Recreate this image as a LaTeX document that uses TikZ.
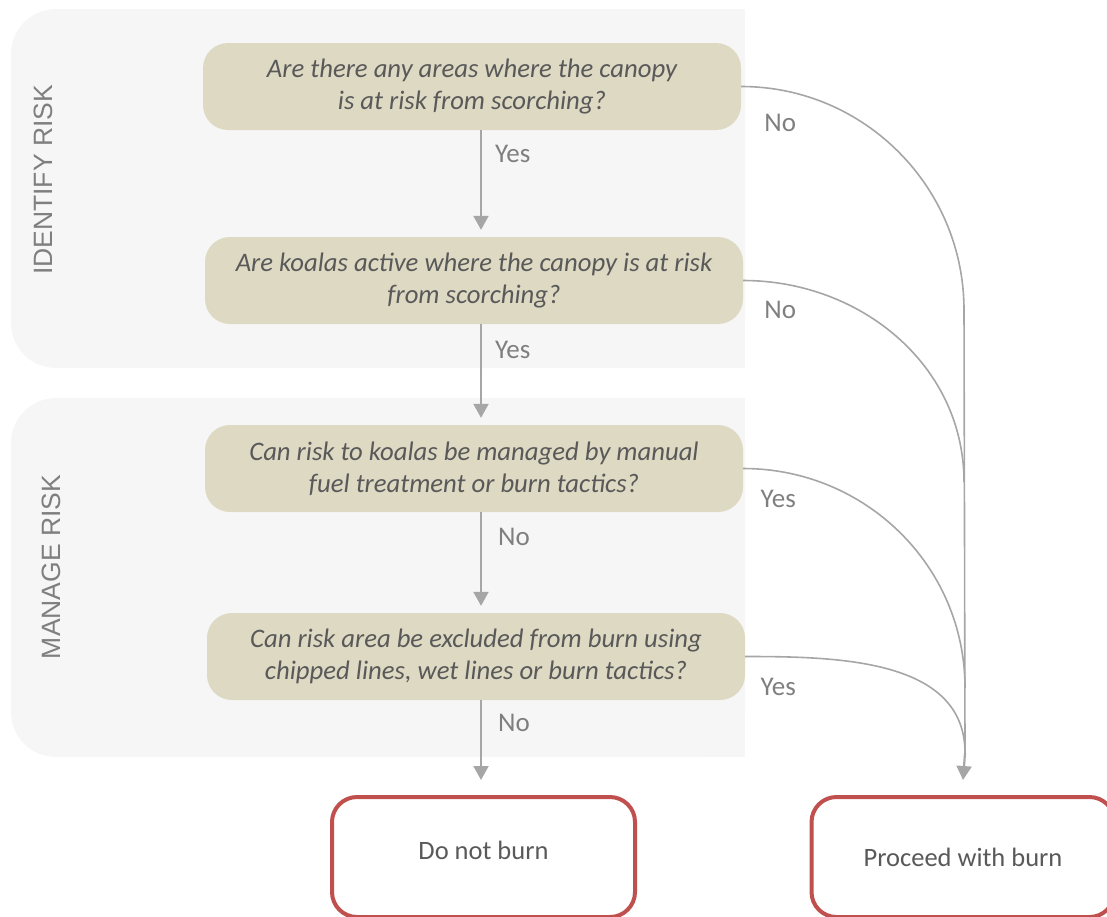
\documentclass[tikz,border=0pt]{standalone}
\usepackage{fontspec}
\setmainfont{Carlito}
\newfontfamily\arialfont{Liberation Sans}
\usetikzlibrary{arrows.meta, positioning}

\definecolor{boxtan}{HTML}{DDD9C3}
\definecolor{panelgray}{HTML}{F6F6F6}
\definecolor{linegray}{HTML}{A6A6A6}
\definecolor{textgray}{HTML}{595959}
\definecolor{lblgray}{HTML}{7F7F7F}
\definecolor{stopred}{HTML}{C0504D}

\tikzset{
  panel/.style={fill=panelgray},
  section/.style={text=lblgray, rotate=90, inner sep=0pt, font=\arialfont\fontsize{26.5}{30}\selectfont},
  question/.style={fill=boxtan, rounded corners=25pt, minimum width=538pt, minimum height=87pt,
    inner sep=0pt, align=center, text=textgray, font=\fontsize{26.7}{32}\selectfont\itshape},
  outcome/.style={draw=stopred, line width=4pt, rounded corners=25pt, fill=white,
    minimum width=303pt, minimum height=120pt, text=textgray, font=\fontsize{26.5}{30}\selectfont},
  lbl/.style={text=lblgray, inner sep=0pt, font=\fontsize{27}{30}\selectfont},
  flow/.style={draw=linegray, line width=2.2pt, -{Triangle[width=15pt,length=14pt]}},
  link/.style={draw=linegray, line width=1.6pt},
}

\begin{document}
\begin{tikzpicture}[x=1pt, y=-1pt]
        \useasboundingbox (0,0) rectangle (1107,916);
        \clip (0,0) rectangle (1107,916);
        % Section panels
        \fill[panel, rounded corners=45pt] (11,9) rectangle (745,368);
        \fill[panel] (400,9) rectangle (745,368);
        \fill[panel, rounded corners=45pt] (11,398) rectangle (745,757);
        \fill[panel] (400,398) rectangle (745,757);
        \node[section] (identify) at (43,180) {IDENTIFY RISK};
        \node[section] (manage) at (51,567) {MANAGE RISK};
        % Questions
        \node[question] (q1) at (472,86.5) {Are there any areas where the canopy\\is at risk from scorching?};
        \node[question] (q2) at (474,280.5) {Are koalas active where the canopy is at risk\\from scorching?};
        \node[question] (q3) at (474,468.5) {Can risk to koalas be managed by manual\\fuel treatment or burn tactics?};
        \node[question] (q4) at (476,656.5) {Can risk area be excluded from burn using\\chipped lines, wet lines or burn tactics?};
        % Outcomes
        \node[outcome, text height=18pt, text depth=13pt] (stop) at (483.5,857) {Do not burn};
        \node[outcome] (go) at (963,857) {Proceed with burn};
        % Main line
        \coordinate (spine) at (481,0);
        \draw[flow] (q1.south -| spine) -- ([yshift=7pt]q2.north -| spine)
            node[lbl, pos=.24, anchor=west, xshift=13pt] {Yes};
        \draw[flow] (q2.south -| spine) -- ([yshift=7pt]q3.north -| spine)
            node[lbl, pos=.28, anchor=west, xshift=13pt] {Yes};
        \draw[flow] (q3.south -| spine) -- ([yshift=7pt]q4.north -| spine)
            node[lbl, pos=.26, anchor=west, xshift=16pt] {No};
        \draw[flow] (q4.south -| spine) -- ([yshift=15pt]stop.north -| spine)
            node[lbl, pos=.28, anchor=west, xshift=16pt] {No};
        % Exits to burn
        \coordinate (m1) at (964,310);
        \coordinate (m2) at (964,482);
        \coordinate (m3) at (965,688);
        \coordinate (m4) at (965,753);
        \draw[link] (q1.east) to[out=0, in=90] (m1);
        \draw[link] (q2.east) to[out=0, in=90] (m2);
        \draw[link] (q3.east) to[out=0, in=90] (m3);
        \draw[link] (q4.east) to[out=0, in=90] (m4);
        \draw[link] (m1) -- (m4);
        \draw[flow] (m4) -- ([yshift=15pt]go.north);
        \node[lbl] at ([shift={(39pt,-36.5pt)}]q1.east) {No};
        \node[lbl] at ([shift={(37pt,-29.5pt)}]q2.east) {No};
        \node[lbl] at ([shift={(35pt,-30.5pt)}]q3.east) {Yes};
        \node[lbl] at ([shift={(33pt,-30.5pt)}]q4.east) {Yes};
    \end{tikzpicture}
\end{document}
